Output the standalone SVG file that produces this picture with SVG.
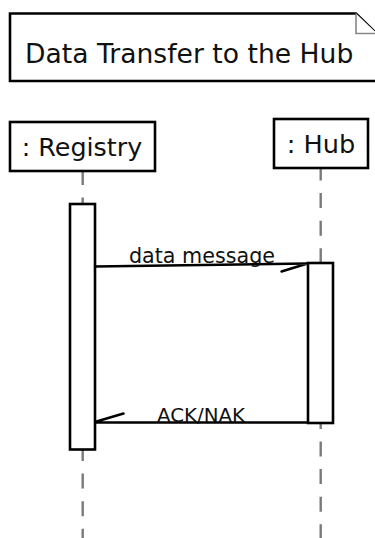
<svg xmlns="http://www.w3.org/2000/svg" width="375" height="538" viewBox="0 0 375 538">
<style>
text{font-family:"DejaVu Sans","Liberation Sans",sans-serif;fill:#111}
.box{fill:#fff;stroke:#000;stroke-width:2.6}
.life{stroke:#7a7a7a;stroke-width:2.4;stroke-dasharray:15 12.6;fill:none}
.msg{stroke:#000;stroke-width:2.4;fill:none;stroke-linecap:round}
.fold{stroke:#888;stroke-width:1.6;fill:#fff}
</style>
<g id="title-note">
<path class="box" d="M10 13.5 H356 L377 34 V81 H10 Z"/>
<path class="fold" d="M356 13.5 V33.5 H377"/>
<text x="25" y="62.5" font-size="26.6">Data Transfer to the Hub</text>
</g>
<g id="lifelines">
<line class="life" x1="82.7" y1="170" x2="82.7" y2="538"/>
<line class="life" x1="320.7" y1="165.5" x2="320.7" y2="538"/>
</g>
<g id="registry">
<rect class="box" x="10" y="122" width="145" height="49"/>
<text x="82" y="156" font-size="25.4" text-anchor="middle">: Registry</text>
</g>
<g id="hub">
<rect class="box" x="274" y="119" width="94" height="49"/>
<text x="321" y="153" font-size="25.6" text-anchor="middle">: Hub</text>
</g>
<g id="registry-activation">
<rect class="box" x="70" y="204" width="25" height="245.5"/>
</g>
<g id="hub-activation">
<rect class="box" x="308" y="263" width="25" height="160"/>
</g>
<g id="connectors">
<path class="msg" d="M95 266.5 L308 263.5 M281.5 271.5 L307.5 263.5"/>
<text x="202" y="263" font-size="20.7" text-anchor="middle">data message</text>
<path class="msg" d="M308 422.5 L95.5 422.5 M96.5 421.5 L123.5 413.5"/>
<text x="201" y="422" font-size="19.8" text-anchor="middle">ACK/NAK</text>
</g>
</svg>
